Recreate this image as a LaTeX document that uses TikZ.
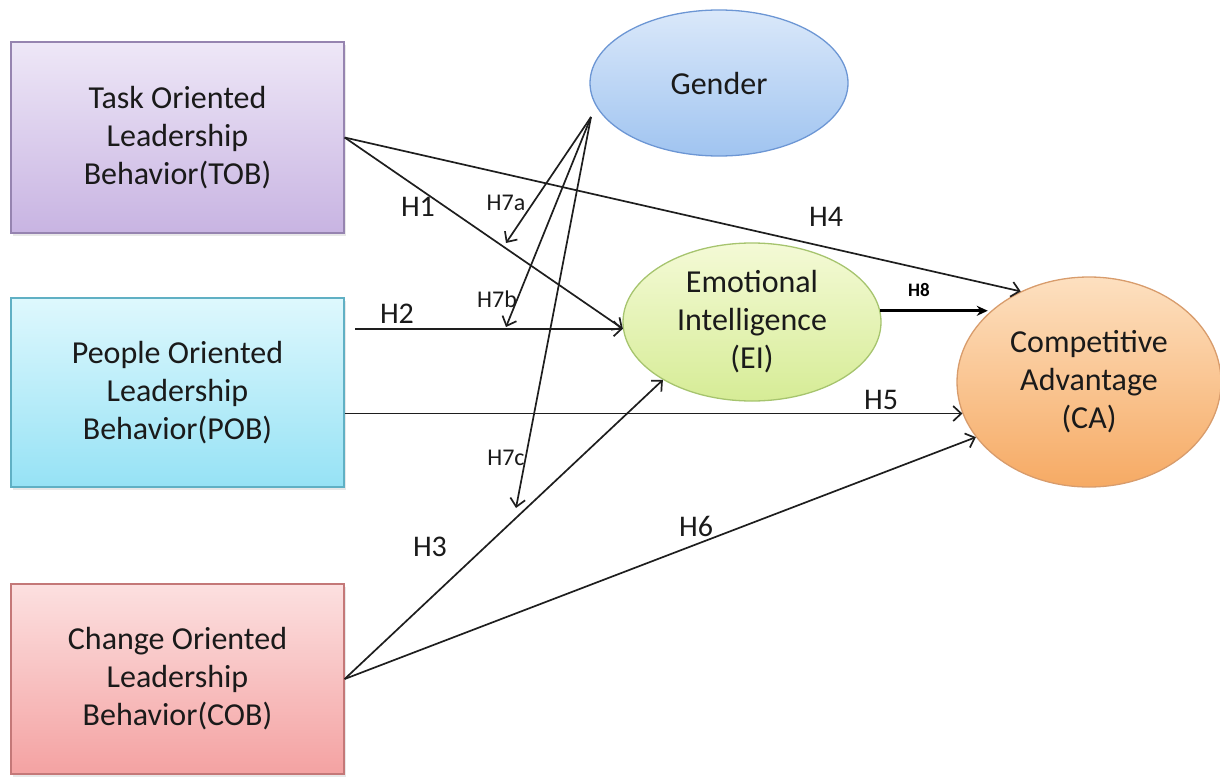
\documentclass[tikz,border=0pt]{standalone}
\usepackage{fontspec}
\setmainfont{Carlito}
\usetikzlibrary{arrows.meta,shapes.geometric,shadows}
\definecolor{txt}{HTML}{1A1A1A}
\definecolor{ln}{HTML}{1E1E1E}
\begin{document}
\begin{tikzpicture}[x=1pt,y=-1pt,
  lbox/.style={rectangle, minimum width=333pt, inner sep=0pt, align=center,
    text=txt, font=\fontsize{32}{38}\selectfont, line width=1.3pt,
    drop shadow={opacity=0.18, shadow xshift=2pt, shadow yshift=-3pt}},
  oval/.style={ellipse, inner sep=0pt, align=center, text=txt,
    font=\fontsize{32}{38}\selectfont, line width=1.3pt},
  arr/.style={draw=ln, line width=1.7pt,
    -{Straight Barb[length=8pt,width=15pt,line width=1.7pt]}},
  hl/.style={text=txt, font=\fontsize{30}{34}\selectfont, inner sep=0pt},
  hs/.style={text=txt, font=\fontsize{24}{26}\selectfont, inner sep=0pt}]
\useasboundingbox (0,0) rectangle (1220,776);

% boxes
\node[lbox, minimum height=191pt, draw={rgb,255:red,150;green,132;blue,176},
  top color={rgb,255:red,238;green,231;blue,247}, bottom color={rgb,255:red,200;green,180;blue,226}]
  (tob) at (177.5,137.5) {Task Oriented\\Leadership\\Behavior(TOB)};
\node[lbox, minimum height=189pt, draw={rgb,255:red,96;green,176;blue,196},
  top color={rgb,255:red,222;green,248;blue,253}, bottom color={rgb,255:red,150;green,226;blue,245}]
  (pob) at (177.5,392.5) {People Oriented\\Leadership\\Behavior(POB)};
\node[lbox, minimum height=190pt, draw={rgb,255:red,196;green,120;blue,120},
  top color={rgb,255:red,252;green,224;blue,224}, bottom color={rgb,255:red,244;green,162;blue,162}]
  (cob) at (177.5,679) {Change Oriented\\Leadership\\Behavior(COB)};

% ellipses
\node[oval, minimum width=258pt, minimum height=146pt, draw={rgb,255:red,108;green,150;blue,212},
  top color={rgb,255:red,218;green,232;blue,250}, bottom color={rgb,255:red,160;green,196;blue,240}]
  (gen) at (719,83) {Gender};
\node[oval, minimum width=258pt, minimum height=158pt, draw={rgb,255:red,166;green,196;blue,110},
  top color={rgb,255:red,244;green,250;blue,214}, bottom color={rgb,255:red,214;green,236;blue,150}]
  (ei) at (752,322) {Emotional\\Intelligence\\(EI)};
\node[oval, minimum width=264pt, minimum height=210pt, draw={rgb,255:red,216;green,156;blue,108},
  top color={rgb,255:red,253;green,224;blue,192}, bottom color={rgb,255:red,246;green,170;blue,100}]
  (ca) at (1089,382) {Competitive\\Advantage\\(CA)};

% free-end coordinates
\coordinate (g0) at (591,117);
\coordinate (h7a) at (506,243);
\coordinate (h7b) at (506,327);
\coordinate (h7c) at (516,508);
\coordinate (h2x) at (355,0);
\coordinate (h2s) at (h2x |- ei.183);
\coordinate (h5s) at (pob.east |- ca.194);
\coordinate (h8e) at (ei.5 -| ca.146);

% connectors
\draw[arr] (tob.east) -- (ei.183);
\draw[arr] (tob.east) -- (ca.127);
\draw[arr] (h2s) -- (ei.183);
\draw[arr] (h5s) -- (ca.194);
\draw[arr] (cob.east) -- (ei.213);
\draw[arr] (cob.east) -- (ca.206);
\draw[draw=black, line width=2.6pt, -{Stealth[length=11pt,width=10pt]}] (ei.5) -- (h8e);
\draw[arr] (g0) -- (h7a);
\draw[arr] (g0) -- (h7b);
\draw[arr] (g0) -- (h7c);

% labels
\node[hl] (l1) at (418,207) {H1};
\node[hl] (l2) at (397,314) {H2};
\node[hl] (l3) at (430,547) {H3};
\node[hl] (l4) at (826,217) {H4};
\node[hl] (l5) at (881,400) {H5};
\node[hl] (l6) at (696,526) {H6};
\node[hs] (l7a) at (506,203) {H7a};
\node[hs] (l7b) at (497,299) {H7b};
\node[hs] (l7c) at (506,458) {H7c};
\node[text=black, font=\fontsize{19}{22}\selectfont\bfseries, inner sep=0pt] (l8) at (919,290) {H8};
\end{tikzpicture}
\end{document}
